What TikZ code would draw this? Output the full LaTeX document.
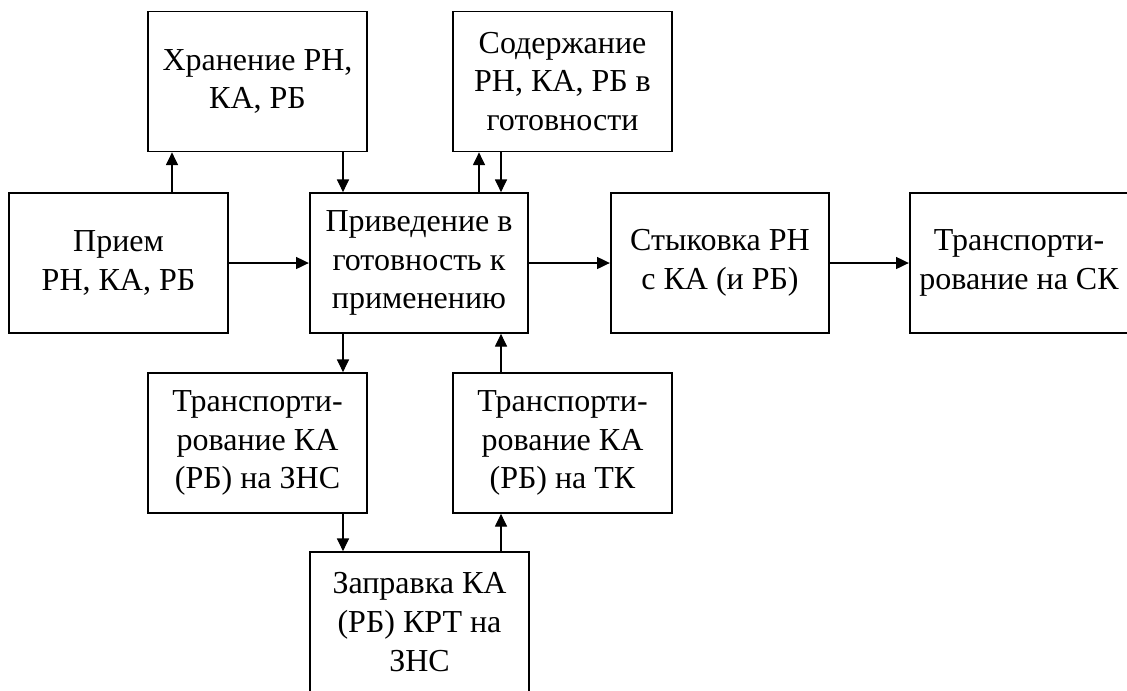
\documentclass[tikz,border=0pt]{standalone}
\usepackage{fontspec}
\setmainfont{Liberation Serif}
\usetikzlibrary{arrows.meta}
\begin{document}
\begin{tikzpicture}[x=0.75pt,y=-0.75pt,
  blk/.style={draw,line width=1.3pt,rectangle,inner sep=0pt,align=center,
    minimum width=164pt,minimum height=105pt,
    font=\fontsize{24}{29}\selectfont},
  arr/.style={line width=0.8pt,-{Triangle[length=9.5pt,width=9pt]}}]
\clip (0,0) rectangle (1127,690);
\fill[white] (0,0) rectangle (1127,690);
\node[blk] (hran) at (257.5,81.5) {Хранение РН,\\КА, РБ};
\node[blk] (sod) at (562.5,81.5) {Содержание\\РН, КА, РБ в\\готовности};
\node[blk] (priem) at (118.5,263) {Прием\\РН, КА, РБ};
\node[blk] (priv) at (419,263) {Приведение в\\готовность к\\применению};
\node[blk] (styk) at (720,263) {Стыковка РН\\с КА (и РБ)};
\node[blk] (trsk) at (1019,263) {Транспорти-\\рование на СК};
\node[blk] (trzns) at (257.5,443) {Транспорти-\\рование КА\\(РБ) на ЗНС};
\node[blk] (trtk) at (562.5,443) {Транспорти-\\рование КА\\(РБ) на ТК};
\node[blk] (zapr) at (419.5,622) {Заправка КА\\(РБ) КРТ на\\ЗНС};
\coordinate (cA) at (172,0);
\coordinate (cB) at (343,0);
\coordinate (cC) at (479,0);
\coordinate (cD) at (501,0);
\draw[arr] (priem.north -| cA) -- (hran.south -| cA);
\draw[arr] (hran.south -| cB) -- (priv.north -| cB);
\draw[arr] (priv.north -| cC) -- (sod.south -| cC);
\draw[arr] (sod.south -| cD) -- (priv.north -| cD);
\draw[arr] (priem.east) -- (priv.west);
\draw[arr] (priv.east) -- (styk.west);
\draw[arr] (styk.east) -- (trsk.west);
\draw[arr] (priv.south -| cB) -- (trzns.north -| cB);
\draw[arr] (trzns.south -| cB) -- (zapr.north -| cB);
\draw[arr] (zapr.north -| cD) -- (trtk.south -| cD);
\draw[arr] (trtk.north -| cD) -- (priv.south -| cD);
\end{tikzpicture}
\end{document}
